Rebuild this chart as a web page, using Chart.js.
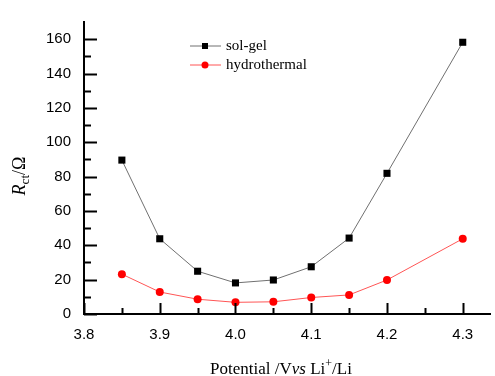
<!DOCTYPE html>
<html>
<head>
<meta charset="utf-8">
<script src="https://cdn.jsdelivr.net/npm/chart.js@4/dist/chart.umd.min.js"></script>
<style>
  html, body { margin: 0; padding: 0; background: #fff; }
  #wrap { width: 495px; height: 376px; }
</style>
</head>
<body>
<div id="wrap"><canvas id="rctChart"></canvas></div>
<script>
// potential (V vs Li+/Li)
const potentials = [3.85, 3.9, 3.95, 4.0, 4.05, 4.1, 4.15, 4.2, 4.3];
// charge transfer resistance, ohm
const solGel = [89.6, 43.8, 24.9, 18.1, 19.8, 27.5, 44.2, 81.9, 158.2];
const hydrothermal = [23.2, 12.8, 8.6, 6.8, 7.1, 9.6, 11.1, 19.8, 43.8];
const seriesNames = ['sol-gel', 'hydrothermal'];

const serif = '"Liberation Serif", "Times New Roman", serif';
const sans = '"Liberation Sans", Arial, sans-serif';

function toPoints(xs, ys) {
  return xs.map((x, i) => ({ x: x, y: ys[i] }));
}

// inward ticks, legend with line+marker, axis titles with sub/superscripts
const decorPlugin = {
  id: 'decor',
  afterDraw(chart) {
    const ctx = chart.ctx;
    const xs = chart.scales.x;
    const ys = chart.scales.y;
    const area = chart.chartArea;
    ctx.save();
    ctx.strokeStyle = '#000';
    ctx.lineWidth = 2;

    // y ticks, pointing into the plot
    for (let v = 0; v <= 160; v += 10) {
      const py = Math.round(ys.getPixelForValue(v)) + 0.5;
      const len = v % 20 === 0 ? 13 : 7;
      ctx.beginPath();
      ctx.moveTo(area.left, py);
      ctx.lineTo(area.left + len, py);
      ctx.stroke();
    }
    // x ticks
    for (let i = 0; i <= 10; i++) {
      const v = 3.8 + i * 0.05;
      const px = Math.round(xs.getPixelForValue(v)) + 0.5;
      const len = i % 2 === 0 ? 11 : 6;
      ctx.beginPath();
      ctx.moveTo(px, area.bottom);
      ctx.lineTo(px, area.bottom - len);
      ctx.stroke();
    }

    // legend
    chart.data.datasets.forEach((ds, i) => {
      const cy = 46 + i * 19;
      ctx.strokeStyle = ds.borderColor;
      ctx.lineWidth = 1;
      ctx.beginPath();
      ctx.moveTo(190, cy);
      ctx.lineTo(221, cy);
      ctx.stroke();
      ctx.fillStyle = ds.pointBackgroundColor;
      if (ds.pointStyle === 'rect') {
        ctx.fillRect(202, cy - 3, 6, 6);
      } else {
        ctx.beginPath();
        ctx.arc(205, cy, 3.5, 0, Math.PI * 2);
        ctx.fill();
      }
      ctx.fillStyle = '#000';
      ctx.font = '15px ' + serif;
      ctx.textBaseline = 'middle';
      ctx.textAlign = 'left';
      ctx.fillText(ds.label, 226, cy);
    });

    // x axis title
    ctx.fillStyle = '#000';
    ctx.textBaseline = 'alphabetic';
    ctx.textAlign = 'left';
    const parts = [
      { t: 'Potential /V', f: '17px ' + serif, dy: 0 },
      { t: 'vs', f: 'italic 17px ' + serif, dy: 0 },
      { t: ' Li', f: '17px ' + serif, dy: 0 },
      { t: '+', f: '12px ' + serif, dy: -7 },
      { t: '/Li', f: '17px ' + serif, dy: 0 }
    ];
    let total = 0;
    parts.forEach(p => { ctx.font = p.f; p.w = ctx.measureText(p.t).width; total += p.w; });
    let x0 = 281 - total / 2;
    parts.forEach(p => {
      ctx.font = p.f;
      ctx.fillText(p.t, x0, 374 + p.dy);
      x0 += p.w;
    });

    // y axis title, rotated
    ctx.translate(25, 176);
    ctx.rotate(-Math.PI / 2);
    const yparts = [
      { t: 'R', f: 'italic 18px ' + serif, dy: 0 },
      { t: 'ct', f: '13px ' + serif, dy: 4 },
      { t: '/Ω', f: '18px ' + serif, dy: 0 }
    ];
    total = 0;
    yparts.forEach(p => { ctx.font = p.f; p.w = ctx.measureText(p.t).width; total += p.w; });
    x0 = -total / 2;
    yparts.forEach(p => {
      ctx.font = p.f;
      ctx.fillText(p.t, x0, p.dy);
      x0 += p.w;
    });
    ctx.restore();
  }
};

new Chart(document.getElementById('rctChart'), {
  type: 'line',
  data: {
    datasets: [
      {
        label: seriesNames[0],
        data: toPoints(potentials, solGel),
        borderColor: '#707070',
        borderWidth: 1,
        pointStyle: 'rect',
        pointRadius: 5,
        pointBackgroundColor: '#000',
        pointBorderColor: '#000',
        pointBorderWidth: 0,
        tension: 0
      },
      {
        label: seriesNames[1],
        data: toPoints(potentials, hydrothermal),
        borderColor: '#ff5555',
        borderWidth: 1,
        pointStyle: 'circle',
        pointRadius: 4,
        pointBackgroundColor: '#ff0000',
        pointBorderColor: '#ff0000',
        pointBorderWidth: 0,
        tension: 0
      }
    ]
  },
  options: {
    responsive: true,
    maintainAspectRatio: false,
    animation: false,
    layout: { padding: { top: 13, right: 0, left: 0, bottom: 0 } },
    plugins: {
      legend: { display: false },
      tooltip: { enabled: false }
    },
    scales: {
      x: {
        type: 'linear',
        min: 3.8,
        max: 4.336,
        grid: { display: false, drawTicks: false },
        border: { display: true, color: '#000', width: 2 },
        ticks: {
          stepSize: 0.1,
          includeBounds: false,
          padding: 12,
          color: '#000',
          font: { family: sans, size: 15 },
          callback: v => Number(v).toFixed(1)
        },
        afterFit: s => { s.height = 62; }
      },
      y: {
        min: 0,
        max: 170,
        grid: { display: false, drawTicks: false },
        border: { display: true, color: '#000', width: 2 },
        ticks: {
          stepSize: 20,
          includeBounds: false,
          padding: 13,
          color: '#000',
          font: { family: sans, size: 15 }
        },
        afterFit: s => { s.width = 84; }
      }
    }
  },
  plugins: [decorPlugin]
});
</script>
</body>
</html>
